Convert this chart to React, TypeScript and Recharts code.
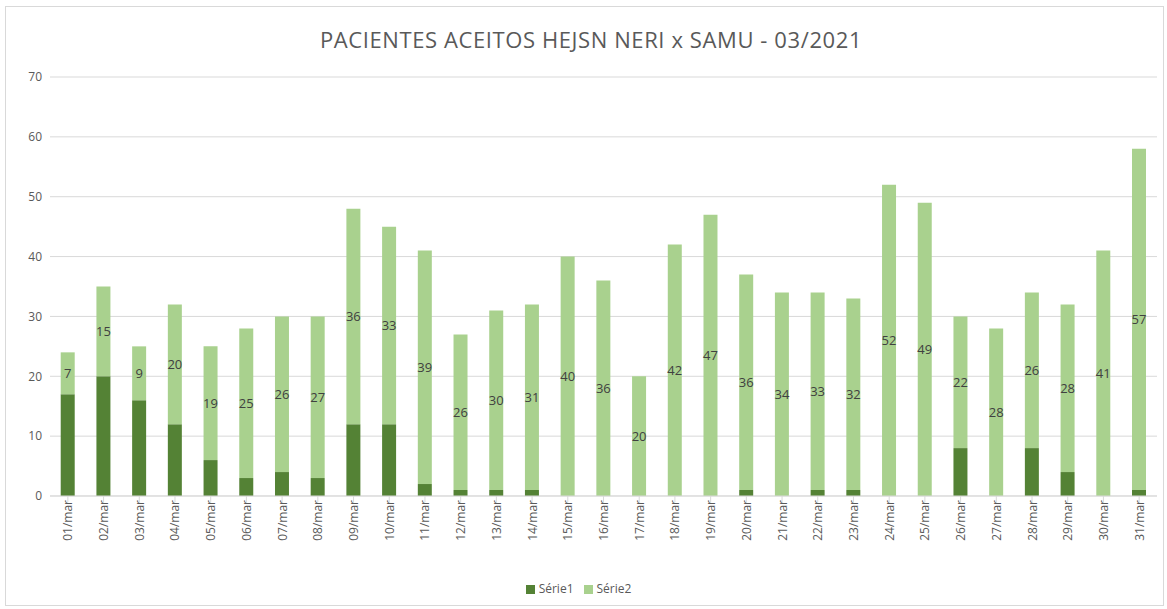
import React from "react";
import {
  BarChart,
  Bar,
  XAxis,
  YAxis,
  CartesianGrid,
  Legend,
  LabelList,
} from "recharts";

const days = [
  "01/mar", "02/mar", "03/mar", "04/mar", "05/mar", "06/mar", "07/mar", "08/mar",
  "09/mar", "10/mar", "11/mar", "12/mar", "13/mar", "14/mar", "15/mar", "16/mar",
  "17/mar", "18/mar", "19/mar", "20/mar", "21/mar", "22/mar", "23/mar", "24/mar",
  "25/mar", "26/mar", "27/mar", "28/mar", "29/mar", "30/mar", "31/mar",
];

const serie1 = [
  17, 20, 16, 12, 6, 3, 4, 3, 12, 12, 2, 1, 1, 1, 0, 0,
  0, 0, 0, 1, 0, 1, 1, 0, 0, 8, 0, 8, 4, 0, 1,
];

const serie2 = [
  7, 15, 9, 20, 19, 25, 26, 27, 36, 33, 39, 26, 30, 31, 40, 36,
  20, 42, 47, 36, 34, 33, 32, 52, 49, 22, 28, 26, 28, 41, 57,
];

const yTicks = [0, 10, 20, 30, 40, 50, 60, 70];

const data = days.map((d, i) => ({
  day: d,
  s1: serie1[i],
  s2: serie2[i],
}));

const FONT = "'Open Sans', 'Noto Sans', sans-serif";

export default function App() {
  return (
    <div
      style={{
        position: "absolute",
        left: 0,
        top: 0,
        width: 1167,
        height: 609,
        background: "#fff",
        fontFamily: FONT,
      }}
    >
      {/* frame */}
      <div
        style={{
          position: "absolute",
          left: 5,
          top: 6,
          width: 1157,
          height: 598,
          border: "1px solid #d9d9d9",
        }}
      />
      {/* title */}
      <div
        style={{
          position: "absolute",
          left: 0,
          top: 24,
          width: 1182,
          textAlign: "center",
          fontSize: 22,
          color: "#595959",
          letterSpacing: 0.6,
        }}
      >
        PACIENTES ACEITOS HEJSN NERI x SAMU - 03/2021
      </div>
      <BarChart
        width={1167}
        height={609}
        data={data}
        margin={{ top: 77, right: 10, left: 10, bottom: 16 }}
        barCategoryGap="30%"
        style={{ position: "absolute", left: 0, top: 0 }}
      >
        <CartesianGrid vertical={false} stroke="#d9d9d9" />
        <XAxis
          dataKey="day"
          interval={0}
          height={80}
          axisLine={{ stroke: "#d9d9d9" }}
          tickLine={{ stroke: "#d9d9d9" }}
          angle={-90}
          textAnchor="end"
          dy={-4}
          dx={-4}
          tick={{ fill: "#595959", fontSize: 12, fontFamily: FONT }}
        />
        <YAxis
          width={40}
          domain={[0, 70]}
          ticks={yTicks}
          axisLine={false}
          tickLine={false}
          tick={{ fill: "#595959", fontSize: 12, fontFamily: FONT }}
        />
        <Legend
          verticalAlign="bottom"
          iconType="square"
          iconSize={9}
          wrapperStyle={{
            fontSize: 12,
            fontFamily: FONT,
            color: "#595959",
            bottom: 12,
          }}
          formatter={(v) => <span style={{ color: "#595959" }}>{v}</span>}
        />
        <Bar
          dataKey="s1"
          name="Série1"
          stackId="a"
          fill="#548235"
          isAnimationActive={false}
        />
        <Bar
          dataKey="s2"
          name="Série2"
          stackId="a"
          fill="#a9d18e"
          isAnimationActive={false}
        >
          <LabelList
            dataKey="s2"
            position="center"
            fill="#404040"
            fontSize={13}
            fontFamily={FONT}
          />
        </Bar>
      </BarChart>
    </div>
  );
}
